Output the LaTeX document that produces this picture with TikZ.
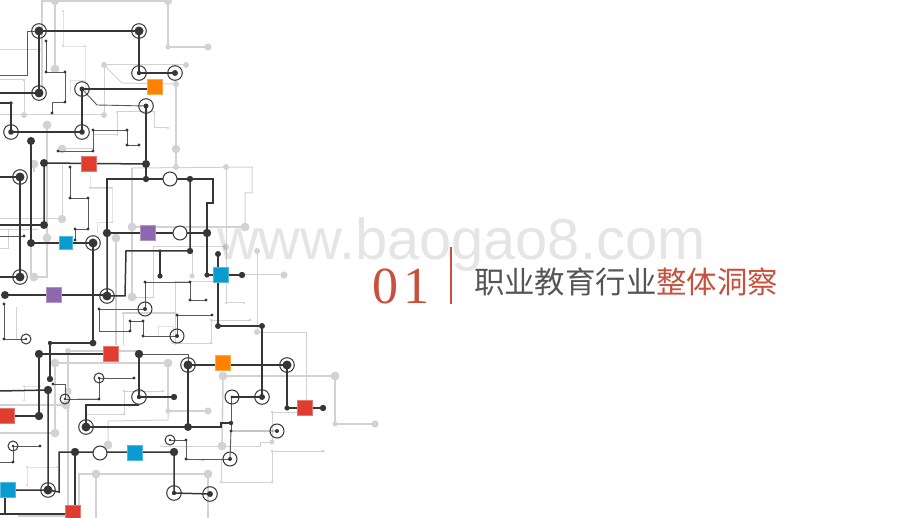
\documentclass[tikz,border=0pt]{standalone}
\usepackage{fontspec}
\setmainfont{Liberation Serif}
\setsansfont{Liberation Sans}
\newfontfamily\cjkfont{Noto Sans CJK SC}
\definecolor{dk}{HTML}{363636}
\definecolor{mid}{HTML}{5A5A5A}
\definecolor{lg}{HTML}{D2D2D2}
\definecolor{xlg}{HTML}{E2E2E2}
\definecolor{redtxt}{HTML}{C8503C}
\definecolor{grytxt}{HTML}{555555}
\definecolor{sqred}{HTML}{DE3D2F}
\definecolor{sqorange}{HTML}{FF8200}
\definecolor{sqpurple}{HTML}{8E67AC}
\definecolor{sqblue}{HTML}{0A9BD0}
\tikzset{
  lgthick/.style={draw=lg,line width=1.6pt},
  lgthin/.style={draw=lg,line width=1pt},
  lgx/.style={draw=xlg,line width=.8pt},
  dkthick/.style={draw=dk,line width=1.5pt},
  dkthin/.style={draw=mid,line width=.9pt},
  ringline/.style={draw=dk,line width=1pt},
  sq/.style={minimum size=#1,inner sep=0pt,outer sep=0pt,line width=.5pt},
  titletext/.style={inner sep=0pt,outer sep=0pt,anchor=west}
}
\begin{document}
\begin{tikzpicture}[x=1pt,y=-1pt]
\useasboundingbox (0,0) rectangle (920,518);
\begin{scope}
\clip (0,0) rectangle (920,518);
% ---------- light layer
\draw[lgthick] (42,92)--(42,1)--(168,1)--(168,47)--(208,47);
\draw[lgthick] (55,1)--(55,69);
\draw[lgthin] (0,50)--(42,50);
\draw[lgthin] (0,80)--(24,80)--(24,115);
\draw[lgthin] (0,115)--(104,115)--(104,65)--(186,65);
\draw[lgthin] (104,65)--(122,83)--(176,84);
\draw[lgthick] (176,84)--(176,167);
\draw[lgthin] (132,168)--(252,167)--(252,193)--(245,193)--(245,227);
\draw[lgthin] (117,135)--(117,112)--(154,112)--(154,128)--(168,128);
\draw[lgthin] (93,135)--(117,135);
\draw[lgx] (63,11)--(63,46)--(85,46)--(85,92);
\draw[lgx] (70,93)--(70,80)--(85,80);
\draw[lgthick] (47,125)--(47,277)--(34,277)--(31,277)--(31,243);
\draw[lgthin] (58,149)--(93,149);
\draw[lgthick] (34,164)--(34,172);
\draw[lgthin] (62,165)--(62,219)--(0,219);
\draw[lgthin] (8,230)--(8,249)--(0,249);
\draw[lgthin] (0,230)--(38,230);
\draw[lgthick] (132,168)--(132,297);
\draw[lgthick] (132,227)--(245,227);
\draw[lgthin] (132,298)--(153,298)--(153,247)--(226,247);
\draw[lgthin] (226,170)--(226,303)--(244,303);
\draw[lgthin] (192,251)--(192,276);
\draw[lgthin] (242,275)--(284,275);
\draw[lgthick] (116,238)--(116,345);
\draw[lgx] (90,175)--(90,188)--(112,188)--(112,222)--(97,222)--(97,233);
\draw[lgthin] (90,188)--(112,188);
\draw[lgthin] (257,251)--(257,332)--(306,332)--(306,408);
\draw[lgthin] (175,282)--(175,345);
\draw[lgthin] (123,345)--(123,313)--(175,313);
\draw[lgx] (158,336)--(158,326)--(173,326)--(173,336);
\draw[lgthin] (250,320)--(211,320)--(211,343)--(173,343);
\draw[lgthin] (175,282)--(213,282);
\draw[lgthin] (16,307)--(16,340);
% lower left light
\draw[lgthick] (68,351)--(68,518);
\draw[lgthick] (68,351)--(139,351);
\draw[lgthick] (55,433)--(55,363)--(168,363)--(168,411)--(208,411);
\draw[lgthick] (0,433)--(55,433);
\draw[lgthin] (168,411)--(168,420)--(108,421)--(108,445);
\draw[lgthin] (163,391)--(124,391)--(124,414)--(86,414);
\draw[lgthin] (77,398)--(100,398);
\draw[lgthick] (0,405)--(66,405);
\draw[lgx] (24,386)--(40,386);
\draw[lgx] (24,386)--(24,400);
\draw[lgx] (57,467)--(27,467)--(27,485);
\draw[lgthick] (79,518)--(79,474)--(208,474)--(208,518);
\draw[lgthick] (96,474)--(96,518);
\draw[lgthick] (18,516)--(66,516);
\draw[lgthick] (223,376)--(335,376)--(335,424)--(375,424);
\draw[lgthick] (223,376)--(222,446);
\draw[lgthin] (160,446)--(260,446)--(260,442)--(272,442)--(272,412)--(298,412);
\draw[lgthin] (323,451)--(272,451)--(272,482)--(221,482)--(221,458);
\draw[lgthin] (172,343)--(211,343);
\draw[lgthin] (186,459)--(203,460);
\foreach \p/\r in {(55,1)/4.2,(168,1)/4,(168,47)/2.6,(208,47)/3.6,(55,69)/4.4,
  (63,11)/1.2,(63,46)/1.2,(85,46)/1.2,(24,80)/1.6,(24,115)/3,(104,115)/3,(104,65)/3,(186,65)/3,
  (176,84)/3,(176,149)/4.2,(176,167)/3,(226,167)/3,(245,227)/4.4,(47,125)/4.4,(62,149)/4.4,(34,164)/4.4,
  (117,135)/1.2,(117,112)/1.2,(154,112)/1.2,(168,128)/1.2,(132,227)/4.4,(132,297)/4.4,
  (62,219)/4.2,(47,238)/4.4,(34,277)/4.4,(116,238)/4.4,(90,188)/1.2,(112,188)/1.2,(112,222)/1.2,
  (226,247)/3.2,(192,276)/2.5,(284,275)/3.6,(257,251)/3,(257,332)/3,(175,282)/1.5,(123,313)/1.5,(175,313)/1.5,
  (211,320)/1.5,(250,320)/1.5,(211,343)/1.5,(244,303)/1.2,(226,303)/1.2,
  (68,351)/3,(55,363)/4.4,(168,363)/4.4,(55,433)/4.4,(168,411)/2.6,(208,411)/3.6,(108,445)/4.4,
  (68,391)/3.6,(66,405)/4.4,(124,391)/1.3,(163,391)/1.3,(124,414)/1.3,(40,386)/1,(24,386)/1,(24,400)/1,
  (27,467)/1,(57,467)/1,(27,485)/1,(96,474)/4.4,(208,474)/4.4,
  (223,376)/4.4,(335,376)/4.4,(222,446)/4.4,(335,424)/2.6,(375,424)/3.6,(272,442)/2.5,(272,412)/1.5,
  (272,451)/1.5,(323,451)/1.5,(272,482)/1.5,(221,482)/1.5,(203,460)/1.5,(172,343)/1,(211,343)/1.5}
  {\fill[lg] \p circle (\r pt);}
% ---------- dark thin layer
\draw[dkthin] (0,75)--(27,75)--(27,31)--(39,31);
\draw[dkthin] (46,41)--(46,72)--(65,72)--(65,102)--(52,102)--(52,113);
\draw[dkthin] (70,167)--(70,198)--(88,198)--(88,229)--(75,229)--(75,240);
\draw[dkthin] (93,130)--(127,130)--(127,145)--(139,145);
\draw[dkthin] (93,130)--(93,151)--(58,151);
\draw[dkthin] (0,236)--(24,236);
\draw[dkthin] (145,282)--(190,282)--(190,300)--(206,300);
\draw[dkthin] (145,282)--(145,309);
\draw[dkthin] (145,309)--(99,309)--(99,331)--(130,331)--(130,321)--(143,321)--(143,336)--(177,336);
\draw[dkthin] (177,336)--(177,315)--(212,315);
\draw[dkthin] (4,304)--(4,339)--(26,339);
\draw[dkthin] (134,378)--(99,378)--(99,399)--(65,399)--(65,384)--(53,384);
\draw[dkthin] (40,446)--(13,446)--(13,462)--(0,462);
\draw[dkthin] (170,440)--(186,440)--(186,459)--(230,459);
\draw[dkthin] (230,459)--(231,431)--(277,431);
\draw[dkthin] (231,431)--(231,397);
\draw[dkthin] (188,365)--(188,354)--(139,354);
\draw[dkthin] (82,89)--(97,105)--(146,106);
\foreach \p in {(46,41),(46,72),(65,72),(65,102),(52,113),(70,167),(70,198),(88,198),(88,229),(75,229),(75,240),
  (93,130),(127,130),(127,145),(139,145),(93,151),(58,151),(24,236),(145,282),(190,282),(190,300),(206,300),
  (99,309),(130,321),(143,321),(143,336),(177,315),(212,315),(4,304),(4,339),(134,378),(99,399),(53,384),(40,446),
  (13,462),(186,440),(186,459),(231,431),(130,331)}
  {\fill[dk] \p circle (1.6pt);}
% ---------- dark thick layer
\draw[dkthick] (0,93)--(39,93)--(39,31)--(139,31)--(139,73)--(175,73);
\draw[dkthick] (82,89)--(155,89);
\draw[dkthick] (82,132)--(82,89);
\draw[dkthick] (146,106)--(146,179);
\draw[dkthick] (0,103)--(11,103)--(11,132)--(82,132);
\draw[dkthick] (31,141)--(31,243);
\draw[dkthick] (44,225)--(44,163)--(146,164);
\draw[dkthick] (0,225)--(44,225);
\draw[dkthick] (0,177)--(20,177)--(20,277)--(0,277);
\draw[dkthick] (107,233)--(107,179)--(213,179)--(213,203)--(207,203)--(207,275)--(242,275);
\draw[dkthick] (107,233)--(107,296)--(125,296)--(126,251)--(190,251)--(190,179);
\draw[dkthick] (107,233)--(207,233);
\draw[dkthick] (160,251)--(160,276);
\draw[dkthick] (218,254)--(218,326)--(262,326)--(262,397);
\draw[dkthick] (5,295)--(107,295);
\draw[dkthick] (31,243)--(93,243)--(93,343)--(50,343)--(50,379);
\draw[dkthick] (39,354)--(111,354);
\draw[dkthick] (7,416)--(39,416)--(39,354);
\draw[dkthick] (139,354)--(139,397)--(174,397);
\draw[dkthick] (139,405)--(86,405)--(86,427)--(188,427)--(188,365)--(287,365);
\draw[dkthick] (188,427)--(221,427)--(221,423)--(231,423);
\draw[dkthick] (0,391)--(48,390)--(48,490)--(8,490);
\draw[dkthick] (48,490)--(59,492)--(59,452)--(174,452)--(174,493)--(210,494);
\draw[dkthick] (75,452)--(75,513);
\draw[dkthick] (5,490)--(5,514);
\draw[dkthick] (0,514)--(73,514);
\draw[dkthick] (287,365)--(287,408)--(323,408);
\draw[dkthick] (232,397)--(262,397);
% ---------- solid dots
\foreach \p/\r in {(146,164)/4,(44,163)/4,(31,141)/4,(146,179)/3.2,(190,179)/3.2,(107,233)/4.2,(207,233)/4.2,
  (190,251)/3.2,(160,251)/1.8,(160,276)/2.6,(207,275)/2.6,(242,275)/3.2,(218,254)/3,(218,326)/3,(262,326)/3,
  (44,225)/4,(31,243)/4,(5,295)/4,(93,343)/3.4,(50,343)/2.2,(50,379)/3.2,
  (39,354)/4.2,(139,354)/4.2,(39,416)/4.2,(174,397)/3.2,(48,390)/4.2,(188,427)/4,(75,452)/4.2,(174,452)/4.2,
  (231,423)/2.2,(287,408)/2.6,(323,408)/3.2,(11,103)/1.8,(99,378)/1}
  {\fill[dk] \p circle (\r pt);}
% ---------- rings: centre / ring radius / dot radius
\foreach \p/\R/\d in {(39,31)/7.3/4.5,(139,31)/7.3/4.5,(139,73)/7.3/2.2,(175,73)/7.3/3,(39,93)/7.3/4.5,(82,89)/7.3/2.5,(82,132)/7.3/2.8,
  (146,106)/7.3/2.5,(11,132)/7.3/2.8,(20,177)/7.3/4.5,(20,277)/7.3/4.5,(93,243)/7.3/4.5,(107,296)/7.3/4.5,(145,309)/7/2,(177,336)/7/2,
  (26,339)/5/1.4,(139,397)/7.3/2.2,(86,427)/7.3/4.5,(188,365)/7.3/4.5,(287,365)/7.3/4.5,(99,378)/5/1.4,(65,399)/5/1.4,
  (48,490)/7.3/4.5,(174,493)/7.3/2.2,(210,494)/7.3/3,(13,446)/5/1.4,(170,440)/5/1.4,(230,459)/7/2,(277,431)/7/2,
  (232,397)/7/1.6,(262,397)/7.3/3}
  {\draw[ringline] \p circle (\R pt); \fill[dk] \p circle (\d pt);}
% open rings
\foreach \p in {(170,179),(180,233),(100,453)}
  {\filldraw[ringline,fill=white] \p circle (7pt);}
% ---------- squares
\node[sq=15pt,fill=sqorange,draw=sqorange!70!white] (sqa) at (155,87) {};
\node[sq=15pt,fill=sqred,draw=sqred!70!white] (sqb) at (89,164) {};
\node[sq=15pt,fill=sqpurple,draw=sqpurple!70!white] (sqc) at (148,233) {};
\node[sq=13pt,fill=sqblue,draw=sqblue!70!white] (sqd) at (66,243) {};
\node[sq=15pt,fill=sqblue,draw=sqblue!70!white] (sqe) at (221,275) {};
\node[sq=15pt,fill=sqpurple,draw=sqpurple!70!white] (sqf) at (54,295) {};
\node[sq=15pt,fill=sqred,draw=sqred!70!white] (sqg) at (111,354) {};
\node[sq=15pt,fill=sqorange,draw=sqorange!70!white] (sqh) at (223,363) {};
\node[sq=15pt,fill=sqred,draw=sqred!70!white] (sqi) at (305,408) {};
\node[sq=15pt,fill=sqred,draw=sqred!70!white] (sqj) at (7,416) {};
\node[sq=15pt,fill=sqblue,draw=sqblue!70!white] (sqk) at (135,453) {};
\node[sq=15pt,fill=sqblue,draw=sqblue!70!white] (sql) at (8,490) {};
\node[sq=15pt,fill=sqred,draw=sqred!70!white] (sqm) at (73,513) {};
\end{scope}
% ---------- titles
\node[titletext,anchor=base west,text=redtxt,font=\fontsize{52pt}{52pt}\selectfont] (num) at (372,304) {0\kern6pt 1};
\draw[draw=redtxt,line width=1.4pt] (451,247)--(451,304);
\node[titletext,font=\cjkfont\fontsize{30.4pt}{30.4pt}\selectfont] (title) at (474,282)
  {\textcolor{grytxt}{职业教育行业}\textcolor{redtxt}{整体洞察}};
% watermark
\node[titletext,anchor=base west,text=black,opacity=.1,font=\sffamily\fontsize{57.8pt}{57.8pt}\selectfont] (wm) at (217,260) {www.baogao8.com};
\end{tikzpicture}
\end{document}
